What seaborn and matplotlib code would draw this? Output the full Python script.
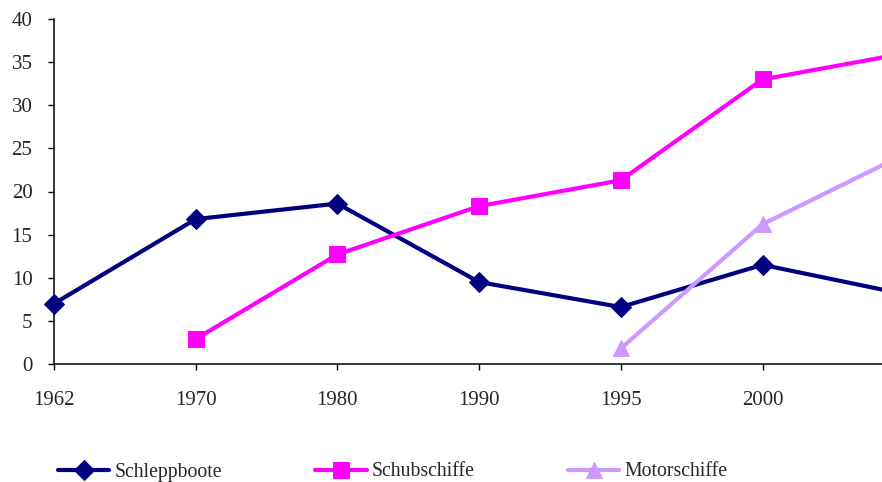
import matplotlib.pyplot as plt
import seaborn as sns
import pandas as pd
import numpy as np

# category labels on the x axis (the last one lies just past the right edge)
years = ['1962', '1970', '1980', '1990', '1995', '2000', '2005']

schleppboote = [7.0, 16.8, 18.6, 9.5, 6.6, 11.5, 8.1]
schubschiffe = [np.nan, 2.9, 12.7, 18.3, 21.3, 33.0, 36.0]
motorschiffe = [np.nan, np.nan, np.nan, np.nan, 1.8, 16.2, 24.3]

series = {
    'Schleppboote': schleppboote,
    'Schubschiffe': schubschiffe,
    'Motorschiffe': motorschiffe,
}
colors = {'Schleppboote': '#000080', 'Schubschiffe': '#FF00FF', 'Motorschiffe': '#CC99FF'}
markers = {'Schleppboote': 'D', 'Schubschiffe': 's', 'Motorschiffe': '^'}
msizes = {'Schleppboote': 10, 'Schubschiffe': 11, 'Motorschiffe': 12}

rows = []
for name, vals in series.items():
    for i, v in enumerate(vals):
        if not np.isnan(v):
            rows.append({'pos': i, 'value': v, 'serie': name})
df = pd.DataFrame(rows)

sns.set_style('white')
plt.rcParams['font.family'] = ['Liberation Serif', 'DejaVu Serif']

fig = plt.figure(figsize=(8.82, 4.82), dpi=100)
ax = fig.add_axes([54 / 882, 118 / 482, 1 - 54 / 882, 345 / 482])

for name in series:
    sub = df[df['serie'] == name]
    sns.lineplot(data=sub, x='pos', y='value', ax=ax, color=colors[name],
                 marker=markers[name], markersize=msizes[name],
                 markeredgecolor=colors[name], linewidth=3, label=name,
                 clip_on=False, zorder=3)

ax.set_xlim(0, (882 - 54) / 141.7)
ax.set_ylim(0, 40)
ax.set_yticks(range(0, 41, 5))
ax.set_xticks(range(len(years) - 1))
ax.set_xticklabels(years[:-1])
ax.set_xlabel('')
ax.set_ylabel('')

for s in ['top', 'right']:
    ax.spines[s].set_visible(False)
for s in ['left', 'bottom']:
    ax.spines[s].set_color('black')
    ax.spines[s].set_linewidth(1.1)

ax.tick_params(axis='y', direction='out', left=True, length=4.5, width=1,
               color='black', labelsize=15, pad=11)
ax.tick_params(axis='x', direction='out', bottom=True, length=4.5, width=1,
               color='black', labelsize=15, pad=15)
ax.grid(False)

ax.get_legend().remove()
handles, labels = ax.get_legend_handles_labels()
fig.legend(handles, labels, loc='center left', bbox_to_anchor=(58 / 882, 10 / 482),
           ncol=3, frameon=False, fontsize=14.2, handlelength=2.6,
           handletextpad=0.25, columnspacing=4.75, borderaxespad=0, borderpad=0)

plt.savefig('out.png', dpi=100)
plt.close()
